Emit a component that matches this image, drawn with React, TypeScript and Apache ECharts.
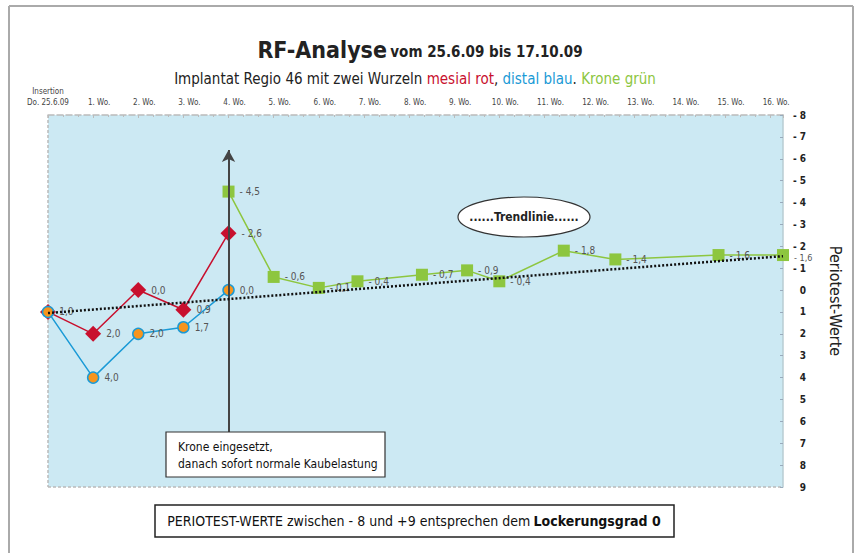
import React, { useEffect, useRef } from "react";
import * as echarts from "echarts";

// ---- data ----
const mesialDays = [0, 7, 14, 21, 28];
const mesialValues = [1.0, 2.0, 0.0, 0.9, -2.6];
const distalDays = [0, 7, 14, 21, 28];
const distalValues = [1.0, 4.0, 2.0, 1.7, 0.0];
const kroneDays = [28, 35, 42, 48, 58, 65, 70, 80, 88, 104, 114];
const kroneValues = [-4.5, -0.6, -0.1, -0.4, -0.7, -0.9, -0.4, -1.8, -1.4, -1.6, -1.6];
const trendDays = [0, 114];
const trendValues = [1.05, -1.55];
const weekLabels = [
  "Insertion\nDo. 25.6.09", "1. Wo.", "2. Wo.", "3. Wo.", "4. Wo.", "5. Wo.", "6. Wo.", "7. Wo.", "8. Wo.",
  "9. Wo.", "10. Wo.", "11. Wo.", "12. Wo.", "13. Wo.", "14. Wo.", "15. Wo.", "16. Wo.",
];
const yMin = -8;
const yMax = 9;

const FONT = "'Liberation Sans Narrow', 'DejaVu Sans Condensed', 'Roboto', sans-serif";

const fmt = (v: number) => {
  const s = Math.abs(v).toFixed(1).replace(".", ",");
  return v < 0 ? "- " + s : s;
};

const pairs = (xs: number[], ys: number[]) => xs.map((x, i) => [x, ys[i]]);

export default function App() {
  const ref = useRef<HTMLDivElement>(null);
  useEffect(() => {
    if (!ref.current) return;
    const chart = echarts.init(ref.current, undefined, { renderer: "svg" });
    const labelStyle = {
      show: true,
      position: "right",
      distance: 5,
      fontSize: 10,
      color: "#555",
      fontFamily: FONT,
      formatter: (p: any) => fmt(p.value[1]),
    };
    const kroneData = pairs(kroneDays, kroneValues).map((d, i, arr) =>
      i === arr.length - 1
        ? { value: d, label: { fontSize: 9, lineHeight: 9, offset: [0, 3] } }
        : { value: d }
    );
    chart.setOption({
      animation: false,
      backgroundColor: "#fff",
      textStyle: { fontFamily: FONT },
      grid: {
        left: 48,
        right: 73,
        top: 115,
        bottom: 66,
        show: true,
        backgroundColor: "#cce9f3",
        borderWidth: 0,
      },
      xAxis: {
        type: "value",
        position: "top",
        min: 0,
        max: 114,
        interval: 7,
        splitLine: { show: false },
        axisLine: { show: true, onZero: false, lineStyle: { color: "#bbb", type: "dashed", width: 1.5 } },
        axisTick: { show: true, length: 3, inside: true, lineStyle: { color: "#bbb" } },
        minorTick: { show: true, splitNumber: 3, length: 2, lineStyle: { color: "#bbb" } },
        axisLabel: {
          showMaxLabel: false,
          margin: 7,
          fontSize: 8,
          color: "#444",
          fontFamily: FONT,
          lineHeight: 11,
          formatter: (v: number) => {
            const i = Math.round(v / 7);
            if (v % 7 !== 0 || i >= weekLabels.length) return "";
            return i === 0 ? weekLabels[0] : "{w|" + weekLabels[i] + "}";
          },
          rich: { w: { fontSize: 8, color: "#444", fontFamily: FONT, padding: [0, 0, 0, 12] } },
        },
      },
      yAxis: {
        type: "value",
        position: "right",
        inverse: true,
        min: yMin,
        max: yMax,
        interval: 1,
        name: "Periotest-Werte",
        nameLocation: "middle",
        nameRotate: -90,
        nameGap: 44,
        nameTextStyle: { fontSize: 16, color: "#222", fontFamily: FONT },
        splitLine: { show: false },
        axisLine: { show: true, onZero: false, lineStyle: { color: "#b9cdd3", width: 1.5 } },
        axisTick: { show: true, inside: true, length: 3, lineStyle: { color: "#9ab" } },
        axisLabel: {
          align: "right",
          margin: 23,
          fontSize: 10,
          lineHeight: 10,
          fontWeight: "bold",
          color: "#222",
          fontFamily: FONT,
          formatter: (v: number) => (v < 0 ? "- " + Math.abs(v) : String(v)),
        },
      },
      series: [
        {
          name: "arrow",
          type: "line",
          data: [],
          silent: true,
          markLine: {
            silent: true,
            symbol: ["none", "arrow"],
            symbolSize: [10, 12],
            label: { show: false },
            lineStyle: { color: "#444", width: 2, type: "solid" },
            data: [[{ coord: [28, 6.5] }, { coord: [28, -6.4] }]],
          },
        },
        {
          name: "mesial",
          type: "line",
          data: pairs(mesialDays, mesialValues),
          symbol: "diamond",
          symbolSize: 16,
          itemStyle: { color: "#c8102e" },
          lineStyle: { color: "#c8102e", width: 1.5 },
          label: {
            ...labelStyle,
            formatter: (p: any) => (p.dataIndex === 0 ? "" : fmt(p.value[1])),
          },
        },
        {
          name: "distal",
          type: "line",
          data: pairs(distalDays, distalValues),
          symbol: "circle",
          symbolSize: 11,
          showAllSymbol: true,
          itemStyle: { color: "#f7941d", borderColor: "#1a9ad6", borderWidth: 1.5 },
          lineStyle: { color: "#1a9ad6", width: 1.5 },
          label: labelStyle,
        },
        {
          name: "krone",
          type: "line",
          data: kroneData,
          symbol: "rect",
          symbolSize: 12,
          itemStyle: { color: "#8dc63f" },
          lineStyle: { color: "#8dc63f", width: 1.5 },
          label: labelStyle,
        },
        {
          name: "trend",
          type: "line",
          data: pairs(trendDays, trendValues),
          symbol: "none",
          lineStyle: { color: "#111", width: 2.5, type: [2, 2] },
          z: 5,
        },
      ],
      graphic: [
        // outer frame
        { type: "line", shape: { x1: 9, y1: 6, x2: 853, y2: 6 }, style: { stroke: "#aaa", lineWidth: 2 } },
        { type: "line", shape: { x1: 9, y1: 6, x2: 9, y2: 553 }, style: { stroke: "#aaa", lineWidth: 2 } },
        { type: "line", shape: { x1: 853, y1: 6, x2: 853, y2: 553 }, style: { stroke: "#aaa", lineWidth: 2 } },
        // dashed plot borders
        { type: "line", shape: { x1: 48, y1: 115, x2: 48, y2: 487 }, style: { stroke: "#bbb", lineWidth: 1.5, lineDash: [3, 2] } },
        { type: "line", shape: { x1: 48, y1: 487, x2: 783, y2: 487 }, style: { stroke: "#bbb", lineWidth: 1.5, lineDash: [3, 2] } },
        // title
        {
          type: "text",
          x: 420,
          y: 50,
          style: {
            text: "{a|RF-Analyse} {b|vom 25.6.09 bis 17.10.09}",
            align: "center",
            verticalAlign: "middle",
            rich: {
              a: { fontSize: 23, fontWeight: "bold", fill: "#222", fontFamily: FONT },
              b: { fontSize: 15, fontWeight: "bold", fill: "#222", fontFamily: FONT, padding: [4, 0, 0, 0] },
            },
          },
        },
        {
          type: "text",
          x: 415,
          y: 79,
          style: {
            text: "{d|Implantat Regio 46 mit zwei Wurzeln }{r|mesial rot}{d|, }{b|distal blau}{d|. }{g|Krone grün}",
            align: "center",
            verticalAlign: "middle",
            rich: {
              d: { fontSize: 15, fill: "#222", fontFamily: FONT },
              r: { fontSize: 15, fill: "#c8102e", fontFamily: FONT },
              b: { fontSize: 15, fill: "#1a9ad6", fontFamily: FONT },
              g: { fontSize: 15, fill: "#8dc63f", fontFamily: FONT },
            },
          },
        },
        // trend ellipse
        {
          type: "ellipse",
          shape: { cx: 524, cy: 217, rx: 66, ry: 20 },
          style: { fill: "#fff", stroke: "#333", lineWidth: 1.2 },
          z: 10,
        },
        {
          type: "text",
          x: 524,
          y: 217,
          z: 11,
          style: {
            text: "......Trendlinie......",
            align: "center",
            verticalAlign: "middle",
            fontSize: 12,
            fontWeight: "bold",
            fill: "#222",
            fontFamily: FONT,
          },
        },
        // annotation box
        {
          type: "rect",
          shape: { x: 166, y: 432, width: 219, height: 45 },
          style: { fill: "#fff", stroke: "#333", lineWidth: 1.2 },
          z: 10,
        },
        {
          type: "text",
          x: 178,
          y: 455,
          z: 11,
          style: {
            text: "Krone eingesetzt,\ndanach sofort normale Kaubelastung",
            align: "left",
            verticalAlign: "middle",
            fontSize: 12,
            lineHeight: 17,
            fill: "#111",
            fontFamily: FONT,
          },
        },
        // bottom box
        {
          type: "rect",
          shape: { x: 155, y: 505, width: 519, height: 32 },
          style: { fill: "#fff", stroke: "#222", lineWidth: 1.5 },
          z: 10,
        },
        {
          type: "text",
          x: 414,
          y: 521,
          z: 11,
          style: {
            text: "{n|PERIOTEST-WERTE zwischen - 8 und +9 entsprechen dem} {m|Lockerungsgrad 0}",
            align: "center",
            verticalAlign: "middle",
            rich: {
              m: { fontSize: 14, fontWeight: "bold", fill: "#111", fontFamily: FONT },
              n: { fontSize: 14, fill: "#111", fontFamily: FONT },
            },
          },
        },
      ],
    });
    return () => chart.dispose();
  }, []);
  return <div ref={ref} style={{ width: 856, height: 553, position: "absolute", left: 0, top: 0 }} />;
}
